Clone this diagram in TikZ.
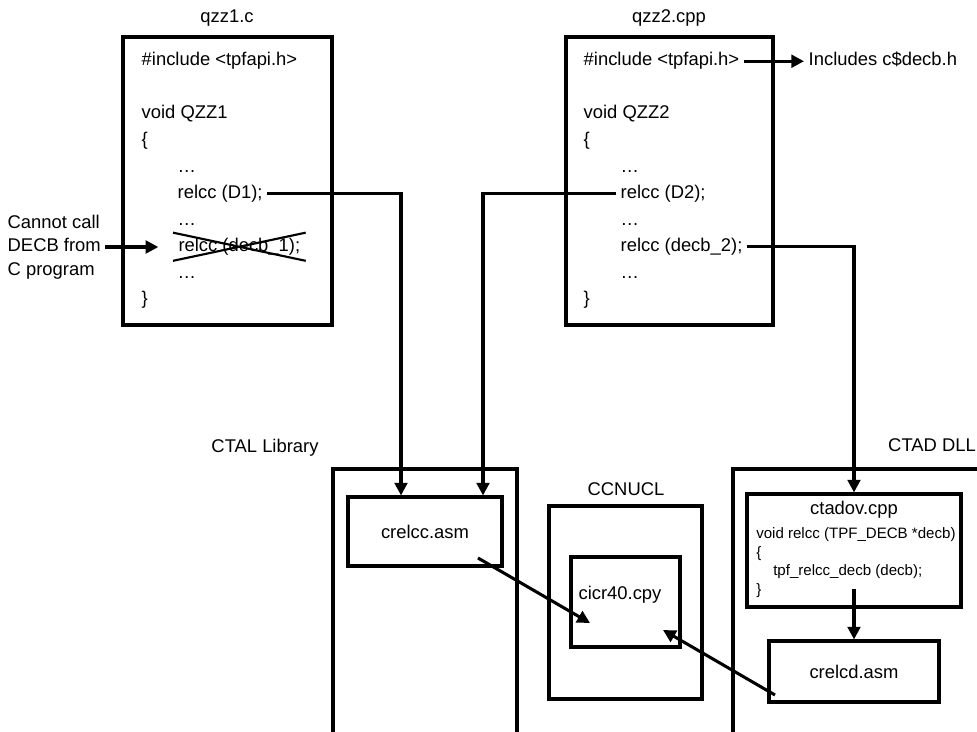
\documentclass[tikz,border=0pt]{standalone}
\usepackage{fontspec}
\setmainfont{Liberation Sans}
\usetikzlibrary{arrows.meta, calc, shapes.misc}

\begin{document}
\begin{tikzpicture}[x=0.75pt, y=-0.75pt,
  >={Triangle[length=9.5pt, width=9.5pt]},
  txt/.style={font=\fontsize{13.8}{17.6}\selectfont},
  code/.style={txt, anchor=base west},
  small/.style={font=\fontsize{11.3}{13.9}\selectfont, align=left, inner sep=0pt},
  box/.style 2 args={draw, line width=2.3pt, minimum width=#1*0.75pt, minimum height=#2*0.75pt, inner sep=0pt},
  strike/.style={cross out, draw, line width=1.6pt},
  edge/.style={->, line width=2.3pt}
]
\clip (0,0) rectangle (977,731);
\node[txt] (qzz1lbl) at (227,18) {qzz1.c};
\node[box={209}{288}] (qzz1) at (227.5,181) {};
\node[code] (inc1) at (137,66) {\#include <tpfapi.h>};
\node[code] (void1) at (137,119) {void QZZ1};
\node[code] (open1) at (137,145.5) {\{};
\node[code] (dots1a) at (173,172) {…};
\node[code] (d1) at (173,198.5) {relcc (D1);};
\node[code] (dots1b) at (173,225) {…};
\node[code, strike] (decb1) at (173,251.5) {relcc (decb\_1);};
\node[code] (dots1c) at (173,278) {…};
\node[code] (close1) at (137,304.5) {\}};
\node[txt, align=left, anchor=west] (cannot) at (3,247) {Cannot call\\DECB from\\C program};

\node[txt] (qzz2lbl) at (669,18) {qzz2.cpp};
\node[box={207}{288}] (qzz2) at (669.5,181) {};
\node[code] (inc2) at (579,66) {\#include <tpfapi.h>};
\node[code] (void2) at (579,119) {void QZZ2};
\node[code] (open2) at (579,145.5) {\{};
\node[code] (dots2a) at (616,172) {…};
\node[code] (d2) at (616,198.5) {relcc (D2);};
\node[code] (dots2b) at (616,225) {…};
\node[code] (decb2) at (616,251.5) {relcc (decb\_2);};
\node[code] (dots2c) at (616,278) {…};
\node[code] (close2) at (579,304.5) {\}};
\node[code] (incl) at (804,66) {Includes c\$decb.h};

\node[txt] (ctallbl) at (265,448) {CTAL Library};
\node[box={184}{291}] (ctal) at (425,614.5) {};
\node[box={154}{69}, txt] (crelcc) at (425,531.5) {crelcc.asm};
\node[txt] (ccnucllbl) at (626,489) {CCNUCL};
\node[box={153}{193}] (ccnucl) at (625.5,602.5) {};
\node[box={109}{90}] (cicr) at (625.5,602) {};
\node[txt] (cicrtxt) at (620,595) {cicr40.cpy};
\node[txt] (ctadlbl) at (932,445) {CTAD DLL};
\node[box={267}{291}] (ctad) at (866.5,614.5) {};
\node[box={214}{113}] (ctadov) at (854,550.5) {};
\node[txt] (ctadovlbl) at (854,510) {ctadov.cpp};
\node[small, anchor=west] (ctadovcode) at (756,562.5) {void relcc (TPF\_DECB *decb)\\\{\\\hspace*{12.75pt}tpf\_relcc\_decb (decb);\\\}};
\node[box={170}{61}, txt] (crelcd) at (854,671.5) {crelcd.asm};

\draw[edge, shorten >=11pt] (cannot.east) -- (cannot.east -| decb1.west);
\draw[edge] (inc2.east) -- (inc2.east -| incl.west);
\draw[edge] (d1.east) -| ($(crelcc.north)+(-24,0)$);
\draw[edge] (d2.west) -| ($(crelcc.north)+(58,0)$);
\draw[edge] (decb2.east) -| (ctadov.north);
\draw[edge] ($(ctadov.south)+(0,-20)$) -- (crelcd.north);
\draw[edge] ($(crelcc.center)+(53,26.5)$) -- ($(cicr.center)+(-35.5,21)$);
\draw[edge] ($(crelcd.center)+(-79,23.5)$) -- ($(cicr.center)+(37.5,28)$);
\end{tikzpicture}
\end{document}
